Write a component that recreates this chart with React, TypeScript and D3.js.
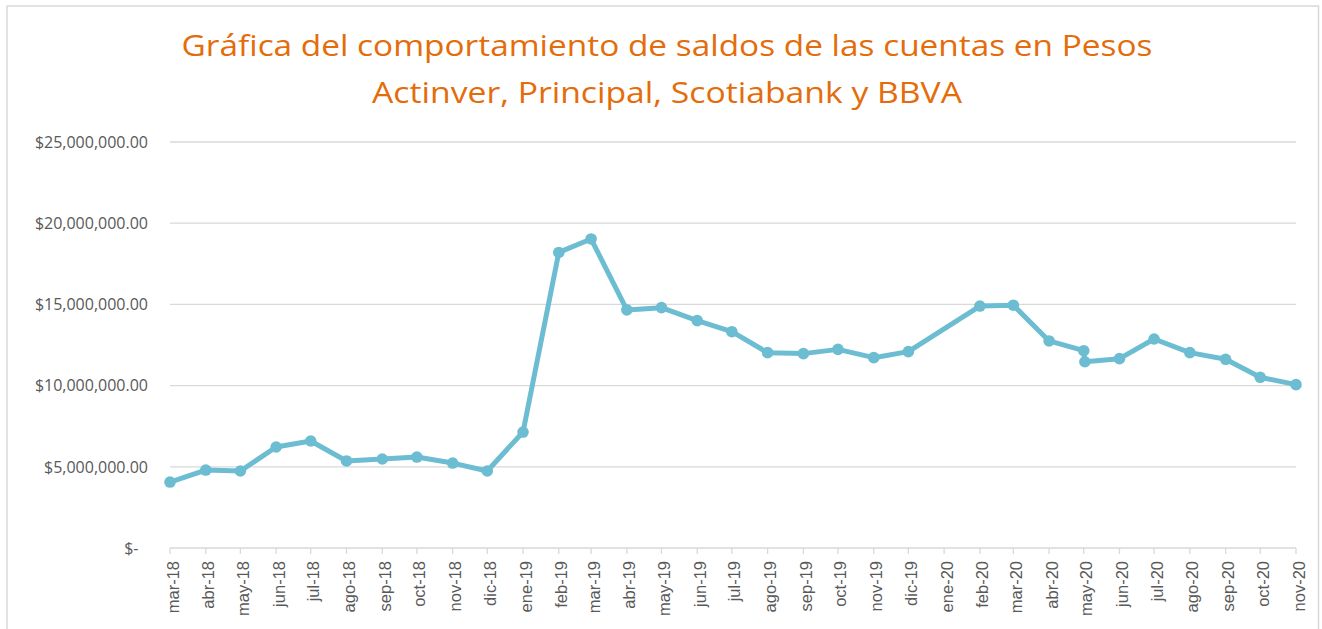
import React from "react";
import * as d3 from "d3";

const TITLE_LINES = [
  "Gráfica del comportamiento de saldos de las cuentas en Pesos",
  "Actinver, Principal, Scotiabank y BBVA",
];
const TITLE_WIDTHS = [971, 590];

const MONTH_ABBR = ["ene", "feb", "mar", "abr", "may", "jun", "jul", "ago", "sep", "oct", "nov", "dic"];

const DATES = [
  "2018-03-01", "2018-04-01", "2018-05-01", "2018-06-01", "2018-07-01", "2018-08-01",
  "2018-09-01", "2018-10-01", "2018-11-01", "2018-12-01", "2019-01-01", "2019-02-01",
  "2019-03-01", "2019-04-01", "2019-05-01", "2019-06-01", "2019-07-01", "2019-08-01",
  "2019-09-01", "2019-10-01", "2019-11-01", "2019-12-01", "2020-02-01", "2020-03-01",
  "2020-04-01", "2020-05-01", "2020-05-02", "2020-06-01", "2020-07-01", "2020-08-01",
  "2020-09-01", "2020-10-01", "2020-11-01",
];

const SALDOS = [
  4060000, 4800000, 4740000, 6220000, 6590000, 5360000,
  5480000, 5600000, 5230000, 4740000, 7140000, 18200000,
  19030000, 14660000, 14800000, 14000000, 13320000, 12030000,
  11970000, 12230000, 11720000, 12090000, 14900000, 14950000,
  12750000, 12150000, 11470000, 11660000, 12870000, 12030000,
  11620000, 10510000, 10060000,
];

const Y_TICKS = [0, 5000000, 10000000, 15000000, 20000000, 25000000];

const W = 1322;
const H = 629;

function parseDate(s: string) {
  const [y, m, d] = s.split("-").map(Number);
  return new Date(y, m - 1, d);
}

function fmtMoney(v: number) {
  if (v === 0) return "$-";
  return "$" + d3.format(",.2f")(v);
}

function fmtMonth(d: Date) {
  return MONTH_ABBR[d.getMonth()] + "-" + String(d.getFullYear() % 100).padStart(2, "0");
}

export default function App() {
  const x = d3
    .scaleTime()
    .domain([parseDate("2018-03-01"), parseDate("2020-11-01")])
    .range([170, 1296]);
  const y = d3.scaleLinear().domain([0, 25000000]).range([548, 142]);

  const points = DATES.map((d, i) => ({ date: parseDate(d), v: SALDOS[i] }));
  const line = d3
    .line<{ date: Date; v: number }>()
    .x((p) => x(p.date))
    .y((p) => y(p.v));

  const xTicks = d3.timeMonth.range(parseDate("2018-03-01"), parseDate("2020-11-02"));

  const textGray = "#595959";
  const gridColor = "#D9D9D9";
  const lineColor = "#6CBDD2";

  return (
    <svg
      width={W}
      height={H}
      style={{ position: "absolute", left: 0, top: 0, background: "#fff" }}
    >
      <rect x={0} y={0} width={W} height={H} fill="#fff" />
      <rect x={7} y={6} width={1311.5} height={660} fill="#fff" stroke="#D9D9D9" strokeWidth={1.5} />

      {TITLE_LINES.map((t, i) => (
        <text
          key={i}
          x={667}
          y={56 + i * 47}
          textAnchor="middle"
          fontFamily="'Open Sans', Lato, sans-serif"
          fontSize={29.5}
          textLength={TITLE_WIDTHS[i]}
          lengthAdjust="spacingAndGlyphs"
          fill="#E46C0A"
        >
          {t}
        </text>
      ))}

      {Y_TICKS.map((t) =>
        t === 0 ? null : (
          <line key={t} x1={170} x2={1296} y1={y(t)} y2={y(t)} stroke={gridColor} strokeWidth={1.3} />
        )
      )}
      <line x1={170} x2={1296} y1={y(0)} y2={y(0)} stroke={gridColor} strokeWidth={1.5} />

      {Y_TICKS.map((t) => (
        <text
          key={"yl" + t}
          x={t === 0 ? 138.5 : 148}
          y={y(t)}
          dy="0.36em"
          textAnchor="end"
          fontFamily="'Open Sans', Lato, sans-serif"
          fontSize={16}
          fill={textGray}
        >
          {fmtMoney(t)}
        </text>
      ))}

      {xTicks.map((d, i) => (
        <g key={i}>
          <line x1={x(d)} x2={x(d)} y1={548} y2={554} stroke={gridColor} strokeWidth={1.3} />
          <text
            transform={`translate(${x(d) + 8.5},561) rotate(-90)`}
            textAnchor="end"
            fontFamily="'Liberation Sans', Arial, sans-serif"
            fontSize={16.5}
            fill={textGray}
          >
            {fmtMonth(d)}
          </text>
        </g>
      ))}

      <path d={line(points) || ""} fill="none" stroke={lineColor} strokeWidth={5} strokeLinejoin="round" />
      {points.map((p, i) => (
        <circle key={i} cx={x(p.date)} cy={y(p.v)} r={5.8} fill={lineColor} />
      ))}
    </svg>
  );
}
